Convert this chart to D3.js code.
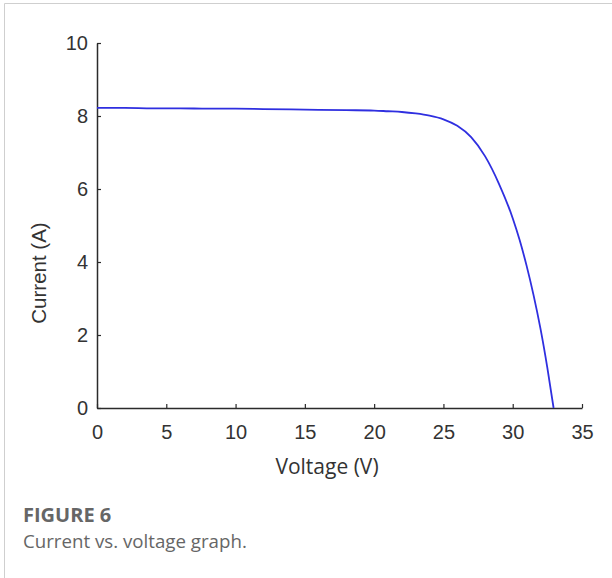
<!DOCTYPE html>
<html>
<head>
<meta charset="utf-8">
<script src="https://cdn.jsdelivr.net/npm/d3@7"></script>
<style>
  html, body { margin: 0; padding: 0; background: #fff; }
  svg { display: block; }
</style>
</head>
<body>
<svg id="chart" width="612" height="578"></svg>
<script>
// ---- data ----
const voltage = [0, 2, 4, 6, 8, 10, 12, 14, 16, 18, 20, 21, 22, 23, 24, 25, 26, 27, 28, 29, 30, 30.5, 31, 31.5, 32, 32.5, 32.95];
const current = [8.22, 8.22, 8.21, 8.21, 8.2, 8.2, 8.19, 8.18, 8.17, 8.16, 8.15, 8.13, 8.11, 8.07, 8.01, 7.91, 7.73, 7.42, 6.9, 6.15, 5.2, 4.6, 3.9, 3.1, 2.18, 1.1, 0];
const xTicks = [0, 5, 10, 15, 20, 25, 30, 35];
const yTicks = [0, 2, 4, 6, 8, 10];
const xLabel = "Voltage (V)";
const yLabel = "Current (A)";
const captionTitle = "FIGURE 6";
const captionText = "Current vs. voltage graph.";

const svg = d3.select("#chart");

// frame
svg.append("line").attr("x1", 4.5).attr("x2", 612).attr("y1", 3.5).attr("y2", 3.5)
  .attr("stroke", "#cfcfcf").attr("stroke-width", 1);
svg.append("line").attr("x1", 4.5).attr("x2", 4.5).attr("y1", 3.5).attr("y2", 578)
  .attr("stroke", "#cfcfcf").attr("stroke-width", 1);

const x = d3.scaleLinear().domain([0, 35]).range([97, 582]);
const y = d3.scaleLinear().domain([0, 10]).range([408, 43]);

const axisColor = "#2b2b2b";
const tickFont = "'Liberation Sans', Arial, sans-serif";

// x axis (inward ticks)
const gx = svg.append("g").attr("transform", `translate(0,${y(0)})`)
  .call(d3.axisBottom(x).tickValues(xTicks).tickSizeInner(-4).tickSizeOuter(0).tickPadding(12));
gx.select(".domain").attr("stroke", axisColor).attr("stroke-width", 1.5);
gx.selectAll(".tick line").attr("stroke", axisColor).attr("stroke-width", 1.2);
gx.selectAll(".tick text").attr("font-family", tickFont).attr("font-size", 20).attr("fill", "#333").attr("dy", "0.71em").attr("y", 17);

// y axis (inward ticks)
const gy = svg.append("g").attr("transform", `translate(${x(0)},0)`)
  .call(d3.axisLeft(y).tickValues(yTicks).tickSizeInner(-4).tickSizeOuter(0).tickPadding(10));
gy.select(".domain").attr("stroke", axisColor).attr("stroke-width", 1.5);
gy.selectAll(".tick line").attr("stroke", axisColor).attr("stroke-width", 1.2);
gy.selectAll(".tick text").attr("font-family", tickFont).attr("font-size", 20).attr("fill", "#333").attr("x", -9);

// curve
const pts = voltage.map((v, i) => [v, current[i]]);
svg.append("path").datum(pts)
  .attr("fill", "none").attr("stroke", "#2f2fe0").attr("stroke-width", 1.8)
  .attr("d", d3.line().x(d => x(d[0])).y(d => y(d[1])).curve(d3.curveMonotoneX));

// axis labels
svg.append("text").attr("x", 327).attr("y", 474).attr("text-anchor", "middle")
  .attr("font-family", "'Open Sans', sans-serif").attr("font-size", 21).attr("fill", "#333")
  .text(xLabel);
svg.append("text").attr("transform", "translate(46,273) rotate(-90)").attr("text-anchor", "middle")
  .attr("font-family", tickFont).attr("font-size", 20.5).attr("fill", "#333")
  .text(yLabel);

// caption
svg.append("text").attr("x", 23).attr("y", 522)
  .attr("font-family", "'Open Sans', sans-serif").attr("font-size", 20).attr("font-weight", 700).attr("fill", "#666")
  .text(captionTitle);
svg.append("text").attr("x", 23).attr("y", 548)
  .attr("font-family", "'Open Sans', sans-serif").attr("font-size", 18.7).attr("fill", "#666")
  .text(captionText);
</script>
</body>
</html>
